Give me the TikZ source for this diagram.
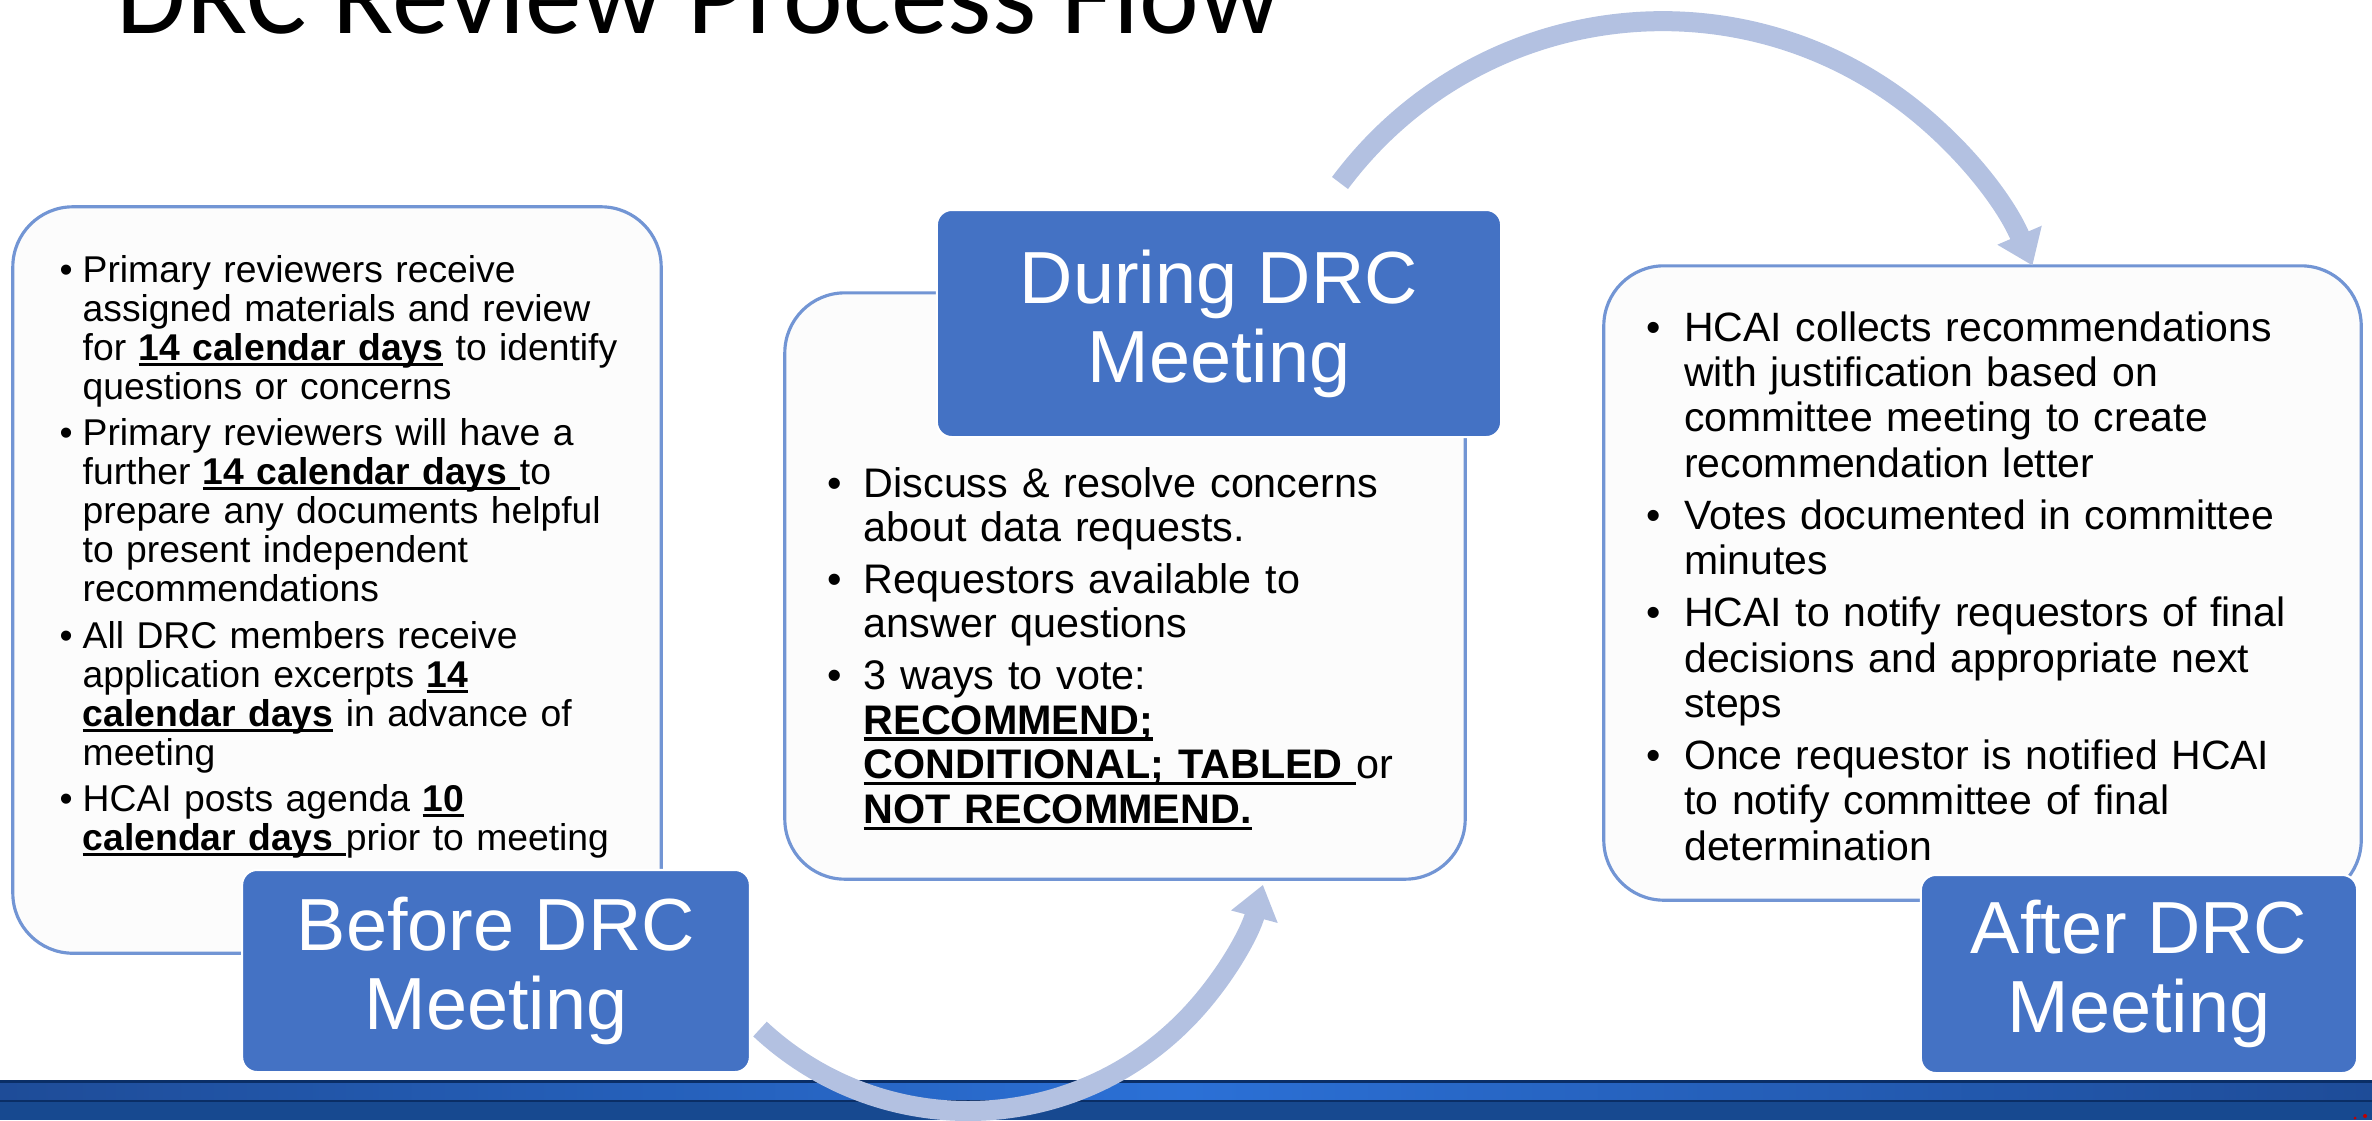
\documentclass[tikz,border=0pt]{standalone}
\usepackage{fontspec}
\setmainfont{Liberation Sans}
\newfontfamily\titlefont{Carlito}
\usetikzlibrary{arrows.meta}

\definecolor{phaseblue}{HTML}{4472C4}
\definecolor{panelline}{HTML}{7295D4}
\definecolor{panelfill}{HTML}{FCFCFC}
\definecolor{arcblue}{HTML}{B3C1E1}
\definecolor{bardark}{HTML}{0A2E66}
\definecolor{barlight}{HTML}{2B70D6}
\definecolor{baredge}{HTML}{1E4C98}
\definecolor{barbase}{HTML}{174990}

\newsavebox\ulbox
\newcommand\ulbf[1]{\leavevmode\sbox\ulbox{\bfseries #1}\rlap{\rule[-0.15em]{\wd\ulbox}{0.075em}}\usebox\ulbox}
\newcommand\bul[1][0.22cm]{\leavevmode\llap{\textbullet\hspace{#1}}}
\newcommand\widespaces{\spaceskip=0.42em plus 0.1em minus 0.05em\relax}

\begin{document}
\begin{tikzpicture}[x=0.01cm,y=-0.01cm,
  panel/.style={draw=panelline,line width=0.9pt,fill=panelfill,rounded corners=0.6cm},
  phase/.style={draw=white,line width=0.6pt,fill=phaseblue,rounded corners=0.15cm,text=white,align=center,font=\fontsize{21pt}{22.5pt}\selectfont},
  bullets/.style={anchor=base west,inner sep=0pt,text width=7cm,align=left},
  flow/.style={draw=arcblue,line width=0.2cm,-{Triangle[width=0.46cm,length=0.33cm]}}]
	\useasboundingbox (0,0) rectangle (2372,1120);
	\node[anchor=base west,inner sep=0pt,font=\titlefont\fontsize{32.2pt}{34pt}\selectfont] (title) at (116,33) {DRC Review Process Flow};

	\node[panel,minimum width=6.48cm,minimum height=7.46cm] (beforepanel) at (337,580) {};
	\node[panel,minimum width=6.8cm,minimum height=5.86cm] (duringpanel) at (1125,586) {};
	\node[panel,minimum width=7.57cm,minimum height=6.34cm] (afterpanel) at (1982.5,583) {};

	\node[bullets,font=\fontsize{10.6pt}{11.1pt}\selectfont] (beforelist) at (82,282) {\bul[0.1cm]Primary reviewers receive\\ assigned materials and review\\ for \ulbf{14 calendar days} to identify\\ questions or concerns\\[2.1pt]
		\bul[0.1cm]Primary reviewers will have a\\ further \ulbf{14 calendar days }to\\ prepare any documents helpful\\ to present independent\\ recommendations\\[2.1pt]
		\bul[0.1cm]All DRC members receive\\ application excerpts \ulbf{14}\\ \ulbf{calendar days} in advance of\\ meeting\\[2.1pt]
		\bul[0.1cm]HCAI posts agenda \ulbf{10}\\ \ulbf{calendar days }prior to meeting};
	\node[bullets,font=\fontsize{11.75pt}{12.66pt}\selectfont\widespaces] (duringlist) at (863,497) {\bul Discuss \& resolve concerns\\ about data requests.\\[2.1pt]
		\bul Requestors available to\\ answer questions\\[2.1pt]
		\bul 3 ways to vote:\\ \ulbf{RECOMMEND;}\\ \ulbf{CONDITIONAL; TABLED }or\\ \ulbf{NOT RECOMMEND.}};
	\node[bullets,font=\fontsize{11.65pt}{12.86pt}\selectfont\widespaces] (afterlist) at (1683.5,341.5) {\bul[0.23cm]HCAI collects recommendations\\ with justification based on\\ committee meeting to create\\ recommendation letter\\[2pt]
		\bul[0.23cm]Votes documented in committee\\ minutes\\[2pt]
		\bul[0.23cm]HCAI to notify requestors of final\\ decisions and appropriate next\\ steps\\[2pt]
		\bul[0.23cm]Once requestor is notified HCAI\\ to notify committee of final\\ determination};

	\node[phase,minimum width=5.075cm,minimum height=2.02cm] (before) at (496,971) {Before DRC\\Meeting};
	\node[phase,minimum width=5.64cm,minimum height=2.27cm] (during) at (1219,323.5) {During DRC\\Meeting};
	\node[phase,minimum width=4.36cm,minimum height=1.98cm] (after) at (2139,974) {After DRC\\Meeting};

	\fill[bardark] (0,1080) rectangle (2372,1120);
	\shade[left color=baredge,right color=baredge,middle color=barlight] (0,1083) rectangle (2372,1099);
	\fill[barbase] (0,1102) rectangle (2372,1120);
	\fill[red!75!black] (2365,1116) circle[radius=0.02cm];
	\fill[red!75!black] (2355,1118) circle[radius=0.015cm];

	\coordinate (lowtail) at (760,1029);
	\coordinate (hightail) at (1340,183);
	\draw[flow] (lowtail) arc[start angle=227,end angle=345,radius=3.05cm];
	\draw[flow] (hightail) arc[start angle=143.3,end angle=23.1,radius=4.02cm];
\end{tikzpicture}
\end{document}
